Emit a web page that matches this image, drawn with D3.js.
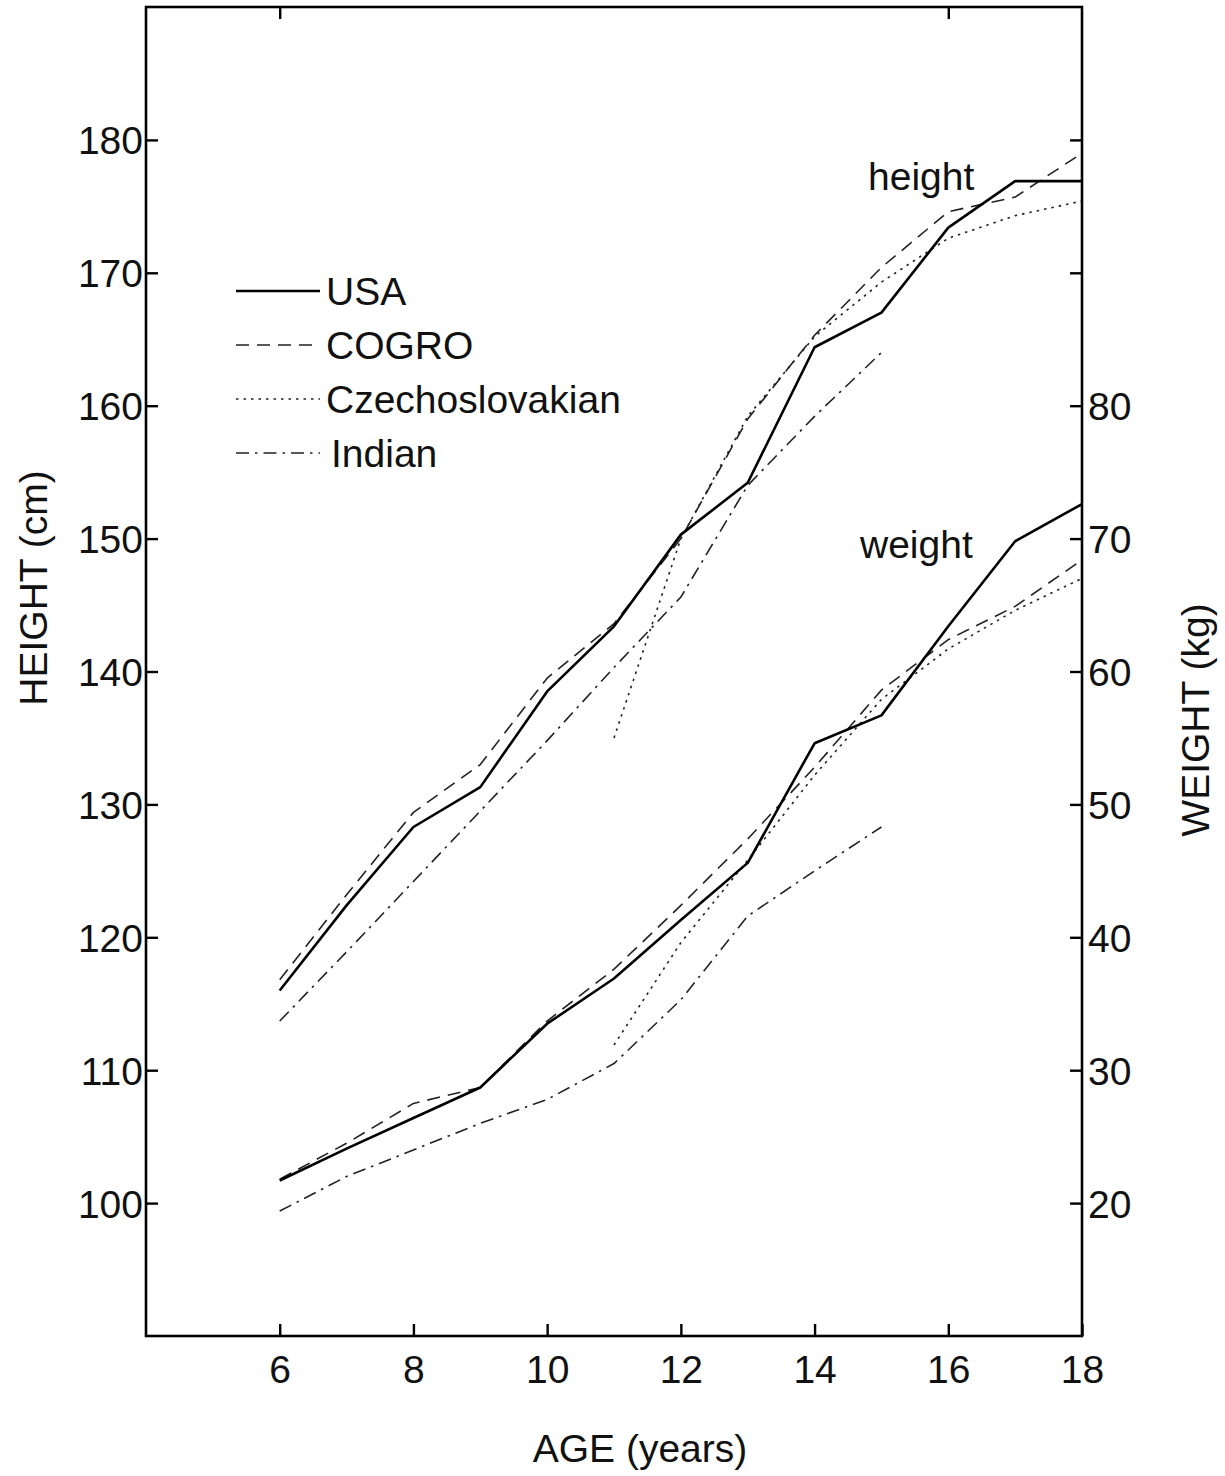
<!DOCTYPE html>
<html>
<head>
<meta charset="utf-8">
<script src="https://cdn.jsdelivr.net/npm/d3@7"></script>
<style>
  html, body { margin: 0; padding: 0; background: #fff; }
  svg { display: block; }
  text { font-family: "Liberation Sans", Arial, Helvetica, sans-serif; fill: #111; }
</style>
</head>
<body>
<svg id="chart" width="1225" height="1476"></svg>
<script>
// ---------- data ----------
const ages = [6, 7, 8, 9, 10, 11, 12, 13, 14, 15, 16, 17, 18];
const czechAges = [11, 12, 13, 14, 15, 16, 17, 18];
const indianAges = [6, 7, 8, 9, 10, 11, 12, 13, 14, 15];

const usaHeight    = [116.0, 122.4, 128.3, 131.3, 138.5, 143.4, 150.3, 154.2, 164.4, 167.0, 173.4, 176.9, 176.9];
const cogroHeight  = [116.8, 123.2, 129.4, 133.0, 139.5, 143.6, 150.0, 159.0, 165.3, 170.4, 174.6, 175.7, 179.0];
const czechHeight  = [135.0, 150.0, 159.2, 165.2, 169.3, 172.6, 174.3, 175.4];
const indianHeight = [113.7, 118.9, 124.2, 129.5, 134.8, 140.3, 145.6, 154.0, 159.2, 164.0];

const usaWeight    = [21.7, 24.1, 26.4, 28.7, 33.5, 36.9, 41.3, 45.6, 54.6, 56.7, 63.4, 69.8, 72.6];
const cogroWeight  = [21.8, 24.5, 27.5, 28.7, 33.7, 37.6, 42.4, 47.4, 52.8, 58.6, 62.4, 64.9, 68.4];
const czechWeight  = [31.9, 39.6, 45.8, 52.2, 57.9, 61.7, 64.6, 67.0];
const indianWeight = [19.4, 22.0, 24.0, 26.0, 27.8, 30.5, 35.3, 41.6, 45.0, 48.3];

const xTicks = [6, 8, 10, 12, 14, 16, 18];
const xTopTicks = [6, 16];
const heightTicks = [100, 110, 120, 130, 140, 150, 160, 170, 180];
const weightTicks = [20, 30, 40, 50, 60, 70, 80, 90, 100];
const weightLabelled = [20, 30, 40, 50, 60, 70, 80];

const seriesNames = ["USA", "COGRO", "Czechoslovakian", "Indian"];

// ---------- layout ----------
const L = 146, R = 1082, T = 7, B = 1336;
const svg = d3.select("#chart");

const x = d3.scaleLinear().domain([4, 18]).range([L, R]);
const yH = d3.scaleLinear().domain([90, 190]).range([B, T]);
const yW = d3.scaleLinear().domain([10, 110]).range([B, T]);

const styles = {
  "USA":             { width: 2.6, dash: null,          color: "#000" },
  "COGRO":           { width: 1.6, dash: "13,8",        color: "#222" },
  "Czechoslovakian": { width: 1.6, dash: "2.5,5",       color: "#222" },
  "Indian":          { width: 1.6, dash: "13,6,2.5,6",  color: "#222" }
};

// ---------- lines ----------
function drawSeries(xs, ys, yScale, name) {
  const st = styles[name];
  const pts = xs.map((a, i) => [a, ys[i]]);
  const line = d3.line().x(d => x(d[0])).y(d => yScale(d[1]));
  svg.append("path")
    .datum(pts)
    .attr("d", line)
    .attr("fill", "none")
    .attr("stroke", st.color)
    .attr("stroke-width", st.width)
    .attr("stroke-linejoin", "round")
    .attr("stroke-dasharray", st.dash);
}

drawSeries(indianAges, indianHeight, yH, "Indian");
drawSeries(czechAges, czechHeight, yH, "Czechoslovakian");
drawSeries(ages, cogroHeight, yH, "COGRO");
drawSeries(ages, usaHeight, yH, "USA");

drawSeries(indianAges, indianWeight, yW, "Indian");
drawSeries(czechAges, czechWeight, yW, "Czechoslovakian");
drawSeries(ages, cogroWeight, yW, "COGRO");
drawSeries(ages, usaWeight, yW, "USA");

// ---------- axes ----------
const fs = 39;

const gB = svg.append("g").attr("transform", `translate(0,${B})`)
  .call(d3.axisBottom(x).tickValues(xTicks).tickSizeInner(-12).tickSizeOuter(0).tickPadding(47).tickFormat(d3.format("d")));
const gT = svg.append("g").attr("transform", `translate(0,${T})`)
  .call(d3.axisTop(x).tickValues(xTopTicks).tickSizeInner(-12).tickSizeOuter(0).tickFormat(""));
const gL = svg.append("g").attr("transform", `translate(${L},0)`)
  .call(d3.axisLeft(yH).tickValues(heightTicks).tickSizeInner(-12).tickSizeOuter(0).tickPadding(3).tickFormat(d3.format("d")));
const gR = svg.append("g").attr("transform", `translate(${R},0)`)
  .call(d3.axisRight(yW).tickValues(weightTicks).tickSizeInner(-12).tickSizeOuter(0).tickPadding(6)
        .tickFormat(d => weightLabelled.includes(d) ? d3.format("d")(d) : ""));

[gB, gT, gL, gR].forEach(g => {
  g.select(".domain").remove();
  g.selectAll(".tick line").attr("stroke", "#000").attr("stroke-width", 2.4);
  g.selectAll(".tick text").attr("font-size", fs).attr("fill", "#111")
    .style("font-family", '"Liberation Sans", Arial, sans-serif');
});
gB.selectAll(".tick text").attr("dy", "0");
gL.selectAll(".tick text").attr("dy", "0.36em");
gR.selectAll(".tick text").attr("dy", "0.36em");

// frame
svg.append("rect")
  .attr("x", L).attr("y", T).attr("width", R - L).attr("height", B - T)
  .attr("fill", "none").attr("stroke", "#000").attr("stroke-width", 2.6);

// ---------- titles ----------
svg.append("text").attr("x", 640).attr("y", 1462).attr("text-anchor", "middle")
  .attr("font-size", fs).text("AGE (years)");
svg.append("text").attr("transform", "translate(47,588) rotate(-90)").attr("text-anchor", "middle")
  .attr("font-size", fs).text("HEIGHT (cm)");
svg.append("text").attr("transform", "translate(1209,720) rotate(-90)").attr("text-anchor", "middle")
  .attr("font-size", fs).text("WEIGHT (kg)");

svg.append("text").attr("x", 868).attr("y", 190).attr("font-size", fs).text("height");
svg.append("text").attr("x", 860).attr("y", 558).attr("font-size", fs).text("weight");

// ---------- legend ----------
const legBase = [305, 359, 413, 467];
seriesNames.forEach((name, i) => {
  const st = styles[name];
  const yy = legBase[i] - 14;
  svg.append("line")
    .attr("x1", 236).attr("x2", 320).attr("y1", yy).attr("y2", yy)
    .attr("stroke", st.color).attr("stroke-width", st.width)
    .attr("stroke-dasharray", st.dash);
  svg.append("text").attr("x", i === 3 ? 331 : 326).attr("y", legBase[i])
    .attr("font-size", fs).text(name);
});
</script>
</body>
</html>
